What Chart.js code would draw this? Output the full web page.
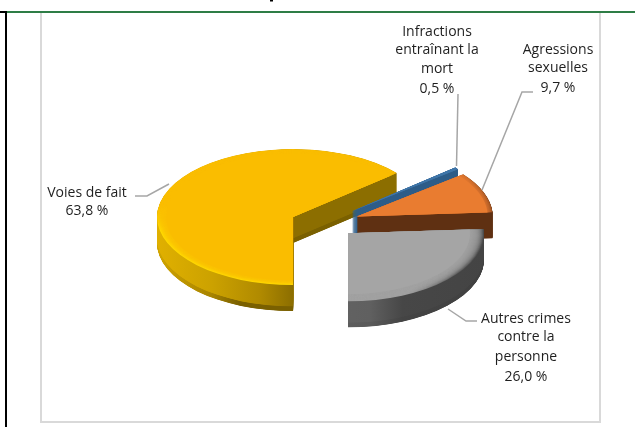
<!DOCTYPE html>
<html><head><meta charset="utf-8">
<style>
html,body{margin:0;padding:0;background:#fff;width:635px;height:427px;overflow:hidden}
#wrap{position:absolute;left:0;top:0;width:635px;height:427px}
</style>
<script src="https://cdn.jsdelivr.net/npm/chart.js@4"></script>
</head><body>
<div id="wrap"><canvas id="c" width="635" height="427"></canvas></div>
<script>
const categories = ["Voies de fait","Infractions entraînant la mort","Agressions sexuelles","Autres crimes contre la personne"];
const shares = [63.8, 0.5, 9.7, 26.0];
const valueLabels = ["63,8 %","0,5 %","9,7 %","26,0 %"];
const faceColors = ["#fabd00","#3f75a8","#e97c30","#a5a5a5"];

const labelLines = [
  {lines:["Voies de fait","63,8 %"], x:87, y:[193,211], leader:[[135,196],[147,196],[169,184]]},
  {lines:["Infractions","entraînant la","mort","0,5 %"], x:437, y:[32,50,69,89], leader:[[458,94],[456.5,166]]},
  {lines:["Agressions","sexuelles","9,7 %"], x:558, y:[50,68,88], leader:[[533,92],[522,92],[482,190]]},
  {lines:["Autres crimes","contre la","personne","26,0 %"], x:526, y:[319,337,357,377], leader:[[477,321],[466,321],[448,309]]}
];

const k = 0.5, depth = 26, R = 136, cy3d = 224, explode = 33;
const bevels = [9, 0, 5, 14];
const layerStep = [0.25, 0.05, 0.25, 0.25];
const nudgeX = [0, 3, 3, 1];
const nudgeY = [0, -4, -3, -4];
const walls = [
  {stops:[[0,"#e0b000"],[0.2,"#cca200"],[0.38,"#b08a00"],[0.5,"#8c6e00"],[1,"#8c6e00"]],
   low:[[0,"#d0a400"],[0.2,"#a88400"],[0.3,"#7a6000"],[1,"#7a6000"]]},
  {stops:[[0,"#2d5c88"],[1,"#2d5c88"]], low:[[0,"#2d5c88"],[1,"#2d5c88"]]},
  {stops:[[0,"#5f3012"],[1,"#5f3012"]], low:[[0,"#5f3012"],[1,"#5f3012"]]},
  {stops:[[0,"#6a6a6a"],[0.58,"#606060"],[0.7,"#474747"],[1,"#444444"]],
   low:[[0,"#6a6a6a"],[0.58,"#5a5a5a"],[0.7,"#444444"],[1,"#404040"]]}
];
const rims = [
  {dir:"y", stops:[[0,"#fabd00"],[0.42,"#fabd00"],[0.6,"#ffd900"],[1,"#ffd900"]]},
  {dir:"y", stops:[[0,"#3f75a8"],[1,"#3f75a8"]]},
  {dir:"x", stops:[[0,"#e97c30"],[0.85,"#e97c30"],[1,"#9c5222"]]},
  {dir:"x", stops:[[0,"#a5a5a5"],[0.72,"#a0a0a0"],[0.9,"#5a5a5a"],[1,"#4d4d4d"]]}
];

function grad(ctx, arc, vertical, stops){
  const g = vertical
    ? ctx.createLinearGradient(0, arc.y - R, 0, arc.y + R)
    : ctx.createLinearGradient(arc.x - R, 0, arc.x + R, 0);
  stops.forEach(s => g.addColorStop(s[0], s[1]));
  return g;
}
function paint(ctx, arc, fill, radius){
  const o = arc.options, r = arc.outerRadius;
  arc.options = Object.assign({}, o, {backgroundColor: fill});
  if (radius) arc.outerRadius = radius;
  arc.draw(ctx);
  arc.options = o;
  arc.outerRadius = r;
}
const pie3d = {
  id:"pie3d",
  beforeDatasetsDraw(chart){
    const ctx = chart.ctx, arcs = chart.getDatasetMeta(0).data;
    const cy = arcs[0].y;
    ctx.save();
    ctx.translate(0, cy3d);
    ctx.scale(1, k);
    ctx.translate(0, -cy);
    arcs.forEach((arc, i) => {
      const mid = (arc.startAngle + arc.endAngle) / 2;
      ctx.save();
      ctx.translate(Math.cos(mid) * explode + nudgeX[i], Math.sin(mid) * explode + nudgeY[i]);
      const wg = grad(ctx, arc, false, walls[i].stops);
      const lg = grad(ctx, arc, false, walls[i].low);
      for (let d = depth; d >= layerStep[i]; d -= layerStep[i]){
        ctx.save();
        ctx.translate(0, d / k);
        paint(ctx, arc, d > depth * 0.82 ? lg : wg);
        ctx.restore();
      }
      paint(ctx, arc, grad(ctx, arc, rims[i].dir === "y", rims[i].stops));
      const bv = bevels[i];
      for (let b = 1; b <= bv; b++){
        ctx.save();
        ctx.globalAlpha = 0.22;
        paint(ctx, arc, faceColors[i], R - b);
        ctx.restore();
      }
      paint(ctx, arc, faceColors[i], R - bv);
      ctx.restore();
    });
    ctx.restore();
    return false;
  },
  afterDraw(chart){
    const ctx = chart.ctx;
    ctx.save();
    ctx.strokeStyle = "#a6a6a6"; ctx.lineWidth = 1.5;
    labelLines.forEach(l => {
      ctx.beginPath();
      l.leader.forEach((p,j) => j ? ctx.lineTo(p[0],p[1]) : ctx.moveTo(p[0],p[1]));
      ctx.stroke();
    });
    ctx.fillStyle = "#1f1f1f";
    ctx.font = "14px 'Open Sans'";
    ctx.textAlign = "center"; ctx.textBaseline = "middle";
    labelLines.forEach(l => l.lines.forEach((t,j) => ctx.fillText(t, l.x, l.y[j])));
    ctx.restore();
  },
  beforeDraw(chart){
    const ctx = chart.ctx;
    ctx.save();
    ctx.fillStyle = "#fff"; ctx.fillRect(0,0,635,427);
    ctx.strokeStyle = "#d9d9d9"; ctx.lineWidth = 2;
    ctx.strokeRect(41, 12, 559, 410);
    ctx.fillStyle = "#2e7d46"; ctx.fillRect(6, 11, 629, 2);
    ctx.fillStyle = "#000"; ctx.fillRect(0, 11, 7, 2); ctx.fillRect(5, 11, 2, 416);
    ctx.fillRect(270, 0, 3, 1.5);
    ctx.restore();
  }
};
new Chart(document.getElementById("c"), {
  type:"pie",
  data:{labels:categories, datasets:[{data:shares, backgroundColor:faceColors, borderWidth:0}]},
  options:{
    responsive:false, animation:false, rotation:180, radius:R,
    events:[],
    layout:{padding:{left:11}},
    plugins:{legend:{display:false}, tooltip:{enabled:false}}
  },
  plugins:[pie3d]
});
</script>
</body></html>
